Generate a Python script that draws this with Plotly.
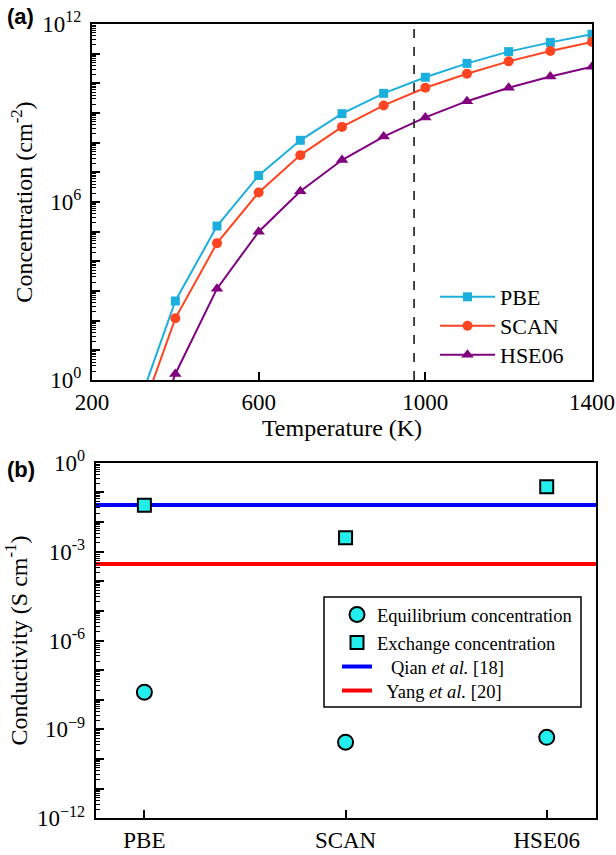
import plotly.graph_objects as go

# ---------------- data ----------------
temperature = [300, 400, 500, 600, 700, 800, 900, 1000, 1100, 1200, 1300, 1400]
pbe = [5.0e-2, 4.6e2, 1.55e5, 7.8e6, 1.2e8, 9.5e8, 4.6e9, 1.6e10, 4.7e10, 1.17e11, 2.4e11, 4.5e11]
scan = [1.4e-2, 1.2e2, 4.1e4, 2.1e6, 3.8e7, 3.4e8, 1.8e9, 7.1e9, 2.1e10, 5.5e10, 1.23e11, 2.5e11]
hse06 = [2.0e-4, 1.6, 1.2e3, 1.0e5, 2.3e6, 2.6e7, 1.6e8, 7.1e8, 2.5e9, 7.1e9, 1.7e10, 3.6e10]
dash_temperature = 973

methods = ["PBE", "SCAN", "HSE06"]
equilibrium = [1.8e-8, 3.7e-10, 5.4e-10]
exchange = [3.7e-2, 2.95e-3, 1.55e-1]
qian_value = 3.73e-2
yang_value = 3.8e-4

top_x_ticks = [200, 600, 1000, 1400]
top_y_labels = {0: "10<sup>0</sup>", 6: "10<sup>6</sup>", 12: "10<sup>12</sup>"}
bot_y_labels = {0: "10<sup>0</sup>", -3: "10<sup>-3</sup>", -6: "10<sup>-6</sup>",
                -9: "10<sup>\u22129</sup>", -12: "10<sup>\u221212</sup>"}

# ---------------- styling helpers ----------------
SERIF = "Liberation Serif"
W, H = 616, 855
xr2 = [-0.242, 2.245]


def decade_ticks(lo, hi, labels):
    vals = [10.0 ** k for k in range(lo, hi + 1)]
    text = [labels.get(k, "") for k in range(lo, hi + 1)]
    minor = [m * 10.0 ** k for k in range(lo, hi) for m in range(2, 10)]
    return vals, text, minor


tv1, tt1, mv1 = decade_ticks(0, 12, top_y_labels)
tv2, tt2, mv2 = decade_ticks(-12, 0, bot_y_labels)

fig = go.Figure()

# panel (a) -- one single-entry legend per row to match the row spacing
series = [("PBE", pbe, "#1CAFDD", "square", 9, "legend"),
          ("SCAN", scan, "#FF4422", "circle", 10, "legend2"),
          ("HSE06", hse06, "#800080", "triangle-up", 11, "legend3")]
for name, vals, col, sym, sz, lg in series:
    fig.add_trace(go.Scatter(x=temperature, y=vals, name=name, mode="lines+markers",
                             line=dict(color=col, width=2),
                             marker=dict(symbol=sym, size=sz, color=col),
                             xaxis="x", yaxis="y", legend=lg))

# panel (b)
fig.add_trace(go.Scatter(x=xr2, y=[qian_value, qian_value], mode="lines",
                         name="\u00a0\u00a0\u00a0Qian <i>et al.</i> [18]",
                         line=dict(color="#0000FF", width=4),
                         xaxis="x2", yaxis="y2", legend="legend6"))
fig.add_trace(go.Scatter(x=xr2, y=[yang_value, yang_value], mode="lines",
                         name="\u00a0\u00a0Yang <i>et al.</i> [20]",
                         line=dict(color="#FF0000", width=4),
                         xaxis="x2", yaxis="y2", legend="legend7"))
fig.add_trace(go.Scatter(x=list(range(len(methods))), y=equilibrium, mode="markers",
                         name="Equilibrium concentration",
                         marker=dict(symbol="circle", size=15, color="#22EEEE",
                                     line=dict(color="black", width=2)),
                         xaxis="x2", yaxis="y2", legend="legend4"))
fig.add_trace(go.Scatter(x=list(range(len(methods))), y=exchange, mode="markers",
                         name="Exchange concentration",
                         marker=dict(symbol="square", size=13, color="#22EEEE",
                                     line=dict(color="black", width=2)),
                         xaxis="x2", yaxis="y2", legend="legend5"))

axis_common = dict(showline=True, linecolor="black", linewidth=2, mirror=True,
                   ticks="inside", tickcolor="black", tickwidth=1.5, ticklen=8,
                   showgrid=False, zeroline=False, automargin=False,
                   tickfont=dict(family=SERIF, size=23, color="black"),
                   title_font=dict(family=SERIF, size=24, color="black"))


def row_legend(x_px, y_px, size, **kw):
    d = dict(x=x_px / W, y=(H - y_px) / H, xanchor="left", yanchor="middle",
             bgcolor="rgba(0,0,0,0)", borderwidth=0,
             font=dict(family=SERIF, size=size, color="black"))
    d.update(kw)
    return d


fig.update_layout(
    width=W, height=H, margin=dict(l=0, r=0, t=0, b=0),
    paper_bgcolor="white", plot_bgcolor="white",
    font=dict(family=SERIF, color="black"),
    xaxis=dict(domain=[92 / W, 592 / W], anchor="y", range=[200, 1400],
               tickmode="array", tickvals=top_x_ticks,
               title=dict(text="Temperature (K)", standoff=4), **axis_common),
    yaxis=dict(domain=[(H - 380) / H, (H - 24) / H], anchor="x", type="log",
               range=[0, 12], tickmode="array", tickvals=tv1, ticktext=tt1,
               minor=dict(tickvals=mv1, ticks="inside", ticklen=4, tickwidth=1.2,
                          tickcolor="black"),
               ticklabelstandoff=4,
               title=dict(text="Concentration (cm<sup>-2</sup>)", standoff=3),
               **axis_common),
    xaxis2=dict(domain=[95.7 / W, 596 / W], anchor="y2", range=xr2,
                tickmode="array", tickvals=list(range(len(methods))), ticktext=methods,
                **axis_common),
    yaxis2=dict(domain=[(H - 818.3) / H, (H - 462.7) / H], anchor="x2", type="log",
                range=[-12, 0], tickmode="array", tickvals=tv2, ticktext=tt2,
                minor=dict(tickvals=mv2, ticks="inside", ticklen=4, tickwidth=1.2,
                           tickcolor="black"),
                ticklabelstandoff=4,
                title=dict(text="Conductivity (S cm<sup>-1</sup>)", standoff=3),
                **axis_common),
    legend=row_legend(435, 297, 22, itemwidth=55),
    legend2=row_legend(435, 326, 22, itemwidth=55),
    legend3=row_legend(435, 355, 22, itemwidth=55),
    legend4=row_legend(337, 615, 18.5),
    legend5=row_legend(337, 643, 18.5),
    legend6=row_legend(337, 667, 18.5),
    legend7=row_legend(337, 691, 18.5),
    showlegend=True,
)

# frame of the panel (b) legend
fig.add_shape(type="rect", xref="paper", yref="paper", x0=324 / W, x1=581 / W,
              y0=(H - 707) / H, y1=(H - 597) / H, layer="above",
              line=dict(color="black", width=1.5), fillcolor="white")

fig.add_shape(type="line", xref="x", yref="y domain", x0=dash_temperature, x1=dash_temperature,
              y0=0, y1=1, line=dict(color="#333333", width=1.8, dash="dash"))

for txt, yy in [("(a)", 17), ("(b)", 469)]:
    fig.add_annotation(text="<b>%s</b>" % txt, x=5 / W, y=(H - yy) / H, xref="paper", yref="paper",
                       xanchor="left", yanchor="middle", showarrow=False,
                       font=dict(family="Liberation Sans", size=22, color="black"))

fig.write_html("out.html", config={"displayModeBar": False},
               post_script="document.body.style.margin='0';document.body.style.overflow='hidden';")
